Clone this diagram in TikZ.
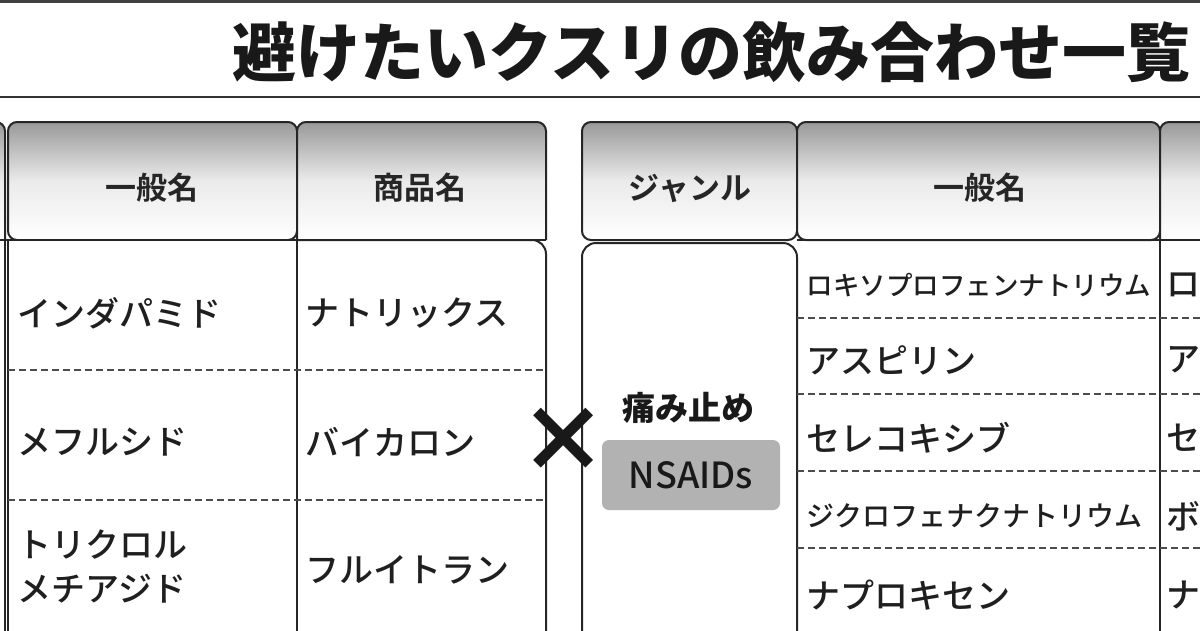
\documentclass[tikz,border=0pt]{standalone}
\usepackage{fontspec}
\newfontfamily\jp{Noto Sans CJK JP Medium}
\newfontfamily\jpb{Noto Sans CJK JP Bold}
\newfontfamily\jpk{Noto Sans CJK JP Black}
\begin{document}
\begin{tikzpicture}[x=1pt,y=-1pt,
  hdr/.style={draw=black!85,line width=2pt,top color=black!40,bottom color=white,middle color=white!92!black,shading angle=0},
  hdrtxt/.style={font=\jpb\fontsize{31}{31}\selectfont,text=black!85},
  cell/.style={font=\jp\fontsize{34}{36}\selectfont,text=black!88,anchor=west,align=left},
  body/.style={draw=black!85,line width=2pt,fill=white},
  vl/.style={black!85,line width=2pt},
  dsh/.style={draw=black!70,line width=1.2pt,dash pattern=on 7pt off 4pt}]
\useasboundingbox (0,0) rectangle (1200,630);
\clip (0,0) rectangle (1200,630);
\fill[white] (0,0) rectangle (1200,630);
% top lines
\draw[black!75,line width=2.5pt] (0,1.5) -- (1200,1.5);
\draw[black!80,line width=2pt] (0,97) -- (1200,97);
\node[font=\jpk\fontsize{64}{64}\selectfont,anchor=west,text=black!90,inner sep=0pt] (title) at (232,52) {避けたいクスリの飲み合わせ一覧};
% left table headers
\draw[hdr,rounded corners=9pt] (-20,240) -- (-20,122) -- (5,122) -- (5,240);
\draw[hdr,rounded corners=9pt] (8,240) -- (8,122) -- (297,122) -- (297,240) -- cycle;
\draw[hdr,rounded corners=9pt] (297,240) -- (297,122) -- (546,122) -- (546,240);
\node[hdrtxt] (h1) at (152,188) {一般名};
\node[hdrtxt] (h2) at (420,188) {商品名};
% left body
\draw[body] (-20,640) -- (-20,240) -- (546,240);
\draw[body,rounded corners=14pt] (297,240) -- (546,240) -- (546,640);
\draw[vl] (5,240) -- (5,640);
\draw[vl] (8,240) -- (8,640);
\draw[vl] (297,240) -- (297,640);
\draw[dsh] (8,370) -- (546,370);
\draw[dsh] (8,500) -- (546,500);
\node[cell] (l1) at (14,313) {インダパミド};
\node[cell] (l2) at (14,442) {メフルシド};
\node[cell,font=\jp\fontsize{34}{44}\selectfont] (l3) at (14,566) {トリクロル\\メチアジド};
\node[cell] (r1) at (302,313) {ナトリックス};
\node[cell] (r2) at (302,442) {バイカロン};
\node[cell] (r3) at (302,570) {フルイトラン};
% right table headers
\draw[hdr,rounded corners=9pt] (582,240) -- (582,122) -- (797,122) -- (797,240) -- cycle;
\draw[hdr,rounded corners=9pt] (797,240) -- (797,122) -- (1160,122) -- (1160,240) -- cycle;
\draw[hdr,rounded corners=9pt] (1160,240) -- (1160,122) -- (1260,122) -- (1260,240);
\node[hdrtxt] (g1) at (690,188) {ジャンル};
\node[hdrtxt] (g2) at (980,188) {一般名};
% right body
\draw[body,rounded corners=14pt] (582,640) -- (582,243) -- (797,243) -- (797,640);
\draw[vl] (797,240) -- (1260,240);
\draw[vl] (1160,240) -- (1160,640);
\foreach \yy in {318,394,471,548} \draw[dsh] (797,\yy) -- (1200,\yy);
% cross
\node[font=\jpk\fontsize{90}{90}\selectfont,text=black!90,inner sep=0pt] (x) at (563,440) {×};
\node[font=\jpk\fontsize{33}{33}\selectfont,text=black!90,inner sep=1pt] (pain) at (688,408) {痛み止め};
\node[fill=black!30,rounded corners=7pt,minimum width=178pt,minimum height=70pt,font=\jp\fontsize{36}{36}\selectfont,text=black!90] (ns) at (691,475) {NSAIDs};
\node[cell,font=\jp\fontsize{26.5}{30}\selectfont] (n1) at (803,285) {ロキソプロフェンナトリウム};
\node[cell] (n2) at (803,360) {アスピリン};
\node[cell] (n3) at (803,438) {セレコキシブ};
\node[cell,font=\jp\fontsize{28}{30}\selectfont] (n4) at (803,516) {ジクロフェナクナトリウム};
\node[cell] (n5) at (803,595) {ナプロキセン};
\node[cell] (p1) at (1163,285) {ロ};
\node[cell] (p2) at (1163,360) {ア};
\node[cell] (p3) at (1163,438) {セ};
\node[cell] (p4) at (1163,516) {ボ};
\node[cell] (p5) at (1163,595) {ナ};
\end{tikzpicture}
\end{document}
